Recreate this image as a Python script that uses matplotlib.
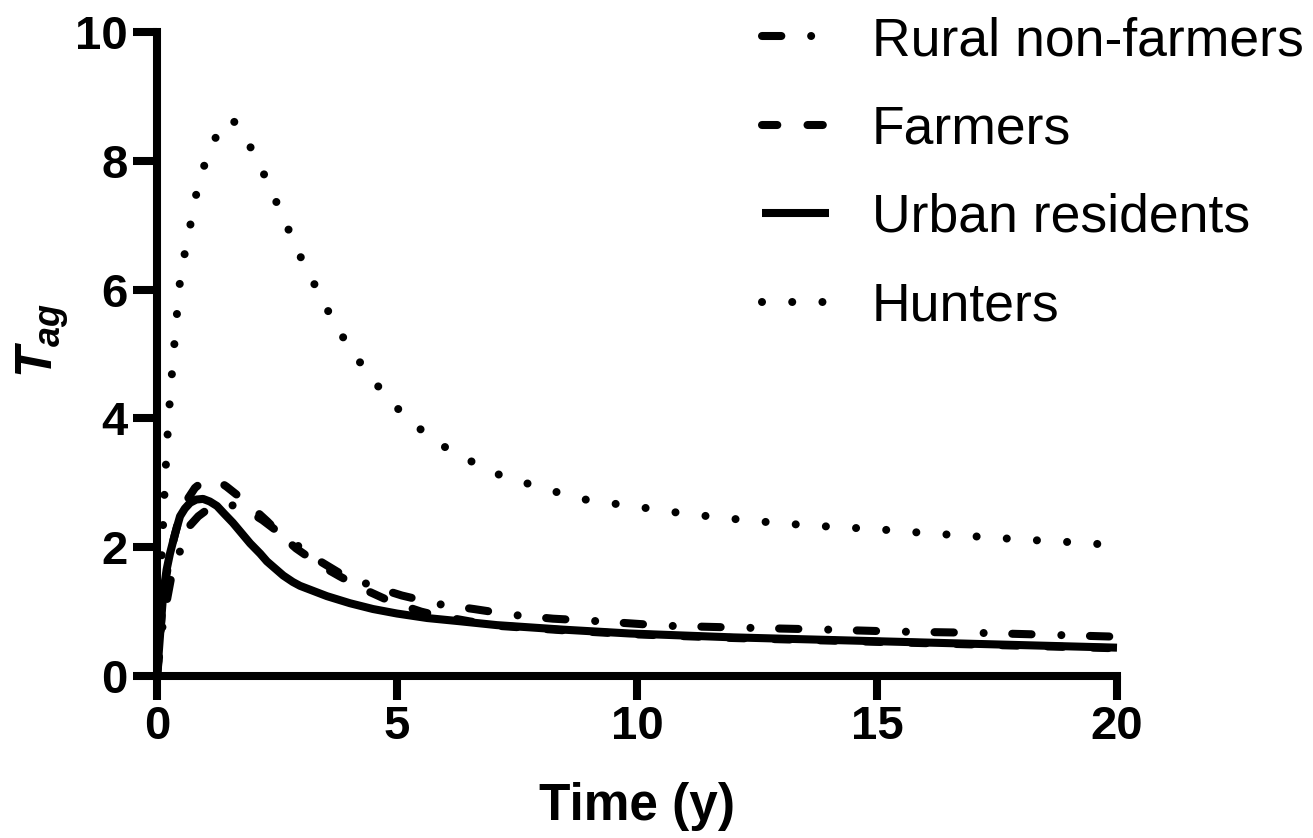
import matplotlib
matplotlib.use("Agg")
import matplotlib.pyplot as plt

plt.rcParams['font.family'] = ['Liberation Sans', 'DejaVu Sans']
plt.rcParams['mathtext.fontset'] = 'custom'
plt.rcParams['mathtext.it'] = 'Liberation Sans:italic:bold'
plt.rcParams['mathtext.rm'] = 'Liberation Sans:bold'

# Hunters
t_hunters = [0, 0.05, 0.1, 0.15, 0.2, 0.25, 0.3, 0.4, 0.5, 0.65, 0.75, 0.88,
             1.08, 1.3, 1.56, 1.9, 2.17, 2.42, 2.67, 2.9, 3.17, 3.44, 3.73,
             4.04, 4.4, 4.77, 5.19, 5.65, 6.15, 6.69, 7.23, 7.81, 8.4, 8.98,
             9.58, 10.17, 11, 12, 13, 14, 15, 16, 17, 18, 19, 20]
y_hunters = [0, 1.0, 1.9, 2.75, 3.5, 4.1, 4.6, 5.5, 6.3, 6.8, 7.25, 7.69,
             8.14, 8.48, 8.66, 8.28, 7.89, 7.47, 7.06, 6.64, 6.25, 5.84, 5.44,
             5.06, 4.7, 4.34, 4.02, 3.73, 3.48, 3.28, 3.09, 2.97, 2.84, 2.73,
             2.67, 2.61, 2.52, 2.44, 2.37, 2.32, 2.28, 2.22, 2.17, 2.12, 2.08, 2.03]

# Urban residents
t_urban = [0, 0.03, 0.06, 0.13, 0.2, 0.27, 0.38, 0.48, 0.58, 0.69, 0.82, 0.96,
           1.1, 1.25, 1.4, 1.58, 1.76, 1.94, 2.15, 2.29, 2.63, 2.83, 2.98,
           3.33, 3.54, 4.02, 4.5, 5.0, 5.63, 6.31, 7.08, 8.46, 9.85, 12, 15,
           17.5, 20]
y_urban = [0, 0.3, 0.6, 1.28, 1.65, 1.9, 2.22, 2.48, 2.6, 2.69, 2.74, 2.75,
           2.71, 2.64, 2.52, 2.38, 2.22, 2.06, 1.9, 1.78, 1.56, 1.46, 1.4,
           1.3, 1.24, 1.13, 1.04, 0.97, 0.9, 0.85, 0.79, 0.72, 0.66, 0.6, 0.54,
           0.49, 0.44]

# Farmers
t_farmers = [0, 0.06, 0.13, 0.27, 0.48, 0.64, 0.79, 0.92, 1.04, 1.15, 1.27,
             1.45, 1.67, 1.88, 2.08, 2.3, 2.5, 2.7, 2.9, 3.15, 3.4, 3.8, 4.3,
             4.8, 5.1, 5.5, 5.83, 6.5, 7.08, 8.46, 9.85, 12, 15, 17.5, 20]
y_farmers = [0, 0.55, 1.25, 1.9, 2.5, 2.75, 2.92, 3.0, 3.05, 3.05, 3.03,
             2.94, 2.81, 2.69, 2.55, 2.4, 2.25, 2.11, 1.98, 1.85, 1.72, 1.55, 1.35,
             1.18, 1.1, 1.0, 0.94, 0.85, 0.78, 0.71, 0.65, 0.59, 0.53, 0.48, 0.43]

# Rural non-farmers
t_rural = [0, 0.1, 0.2, 0.3, 0.48, 0.69, 0.86, 1.04, 1.3, 1.52, 1.72, 1.9,
           2.2, 2.5, 2.92, 3.4, 3.8, 4.3, 4.8, 5.1, 5.83, 6.6, 7.4, 8.25, 9.0,
           9.8, 10.6, 12.2, 14, 15.4, 17.1, 18.6, 20]
y_rural = [0, 0.7, 1.15, 1.55, 1.94, 2.34, 2.48, 2.58, 2.65, 2.66, 2.62, 2.56,
           2.42, 2.25, 2.03, 1.78, 1.6, 1.45, 1.32, 1.25, 1.12, 1.04, 0.95, 0.89,
           0.86, 0.82, 0.78, 0.75, 0.72, 0.69, 0.67, 0.64, 0.61]

fig = plt.figure(figsize=(13.13, 8.38), dpi=100)
ax = fig.add_axes([157 / 1313, 1 - 676 / 838, 960 / 1313, 644 / 838])

lw = 5.8
ax.plot(t_hunters, y_hunters, color='black', lw=lw, linestyle=(0, (0.001, 3.75)),
        dash_capstyle='round', label='Hunters', clip_on=False)
ax.plot(t_farmers, y_farmers, color='black', lw=lw, linestyle=(0, (1.9, 3.75)),
        dash_capstyle='round', label='Farmers', clip_on=False)
ax.plot(t_rural, y_rural, color='black', lw=lw,
        linestyle=(0, (2.4, 3.7, 0.001, 3.55)),
        dash_capstyle='round', label='Rural non-farmers', clip_on=False)
ax.plot(t_urban, y_urban, color='black', lw=lw, solid_capstyle='butt',
        solid_joinstyle='round', label='Urban residents', clip_on=False)

ax.set_xlim(0, 20)
ax.set_ylim(0, 10)
ax.set_xticks([0, 5, 10, 15, 20])
ax.set_yticks([0, 2, 4, 6, 8, 10])

for side in ['top', 'right']:
    ax.spines[side].set_visible(False)
for side in ['left', 'bottom']:
    ax.spines[side].set_linewidth(5.8)
    ax.spines[side].set_capstyle('projecting')

ax.tick_params(axis='both', length=17, width=5.8, direction='out',
               labelsize=34, pad=4)
for lbl in ax.get_xticklabels() + ax.get_yticklabels():
    lbl.set_fontweight('bold')

ax.set_xlabel('Time (y)', fontsize=37, fontweight='bold')
ax.xaxis.set_label_coords(0.5, -0.165)
ax.set_ylabel(r'$T_{ag}$', fontsize=37)
ax.yaxis.set_label_coords(-0.09, 0.52)

# legend order: rural, farmers, urban, hunters
handles, labels = ax.get_legend_handles_labels()
order = [2, 1, 3, 0]
fig.legend([handles[i] for i in order], [labels[i] for i in order],
           loc='upper left', bbox_to_anchor=(762 / 1313, 1 - 16 / 838),
           frameon=False, fontsize=38.5, handlelength=1.25, handletextpad=0.8,
           labelspacing=0.72, borderpad=0, borderaxespad=0)

fig.savefig('out.png', dpi=100)
